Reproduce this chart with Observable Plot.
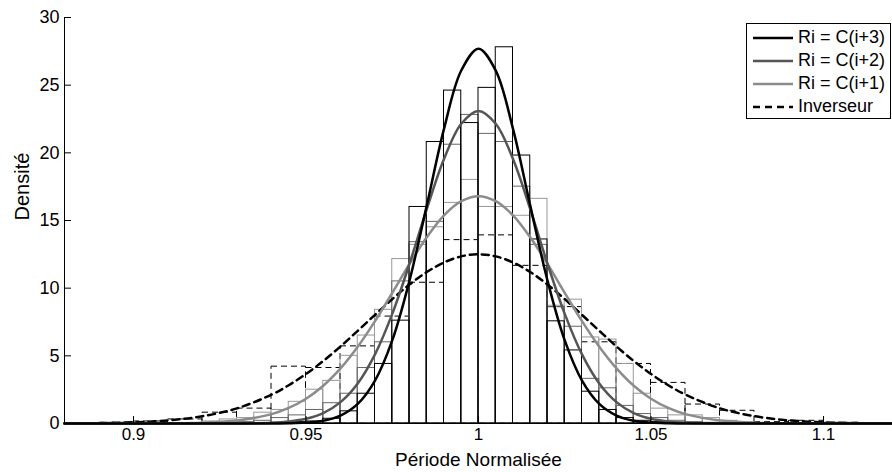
<!DOCTYPE html>
<html><head><meta charset="utf-8">
<script src="https://cdn.jsdelivr.net/npm/d3@7"></script>
<script src="https://cdn.jsdelivr.net/npm/@observablehq/plot@0.6"></script>
<style>
body{margin:0;background:#fff;font-family:"Liberation Sans",Arial,Helvetica,sans-serif;}
#wrap{position:relative;width:892px;height:472px;}
#legend{position:absolute;left:746px;top:23px;width:145px;height:96px;border:1px solid #000;background:#fff;box-sizing:border-box;padding-top:2px;}
.row{display:flex;align-items:center;height:23px;font-size:18px;line-height:23px;}
.row svg{margin-left:6px;margin-right:5px;}
</style></head><body><div id="wrap"></div>
<script>
// Series names and colours
const seriesNames = ["Ri = C(i+3)", "Ri = C(i+2)", "Ri = C(i+1)", "Inverseur"];
const seriesColors = ["#000000", "#555555", "#8c8c8c", "#000000"];

// Histogram bins for Ri series (left edges, width 0.005)
const riBinLeft = [0.920,0.925,0.930,0.935,0.940,0.945,0.950,0.955,0.960,0.965,0.970,0.975,0.980,0.985,0.990,0.995,1.000,1.005,1.010,1.015,1.020,1.025,1.030,1.035,1.040,1.045,1.050,1.055,1.060,1.065,1.070,1.075];
const riBinWidth = 0.005;
const histC3 = [0,0,0,0,0.05,0.1,0.15,0.35,0.9,2.2,4.4,7.6,16.0,20.8,24.6,22.2,24.8,27.8,19.8,13.6,7.55,5.4,2.35,1.0,0.4,0.2,0.1,0.05,0,0,0,0];
const histC2 = [0,0.05,0.1,0.2,0.4,0.6,1.0,1.5,2.2,4.1,6.0,10.5,13.4,14.9,20.6,22.8,21.4,20.8,17.5,13.2,8.6,7.15,3.3,2.6,1.3,0.7,0.4,0.2,0.1,0.05,0,0];
const histC1 = [0.15,0.3,0.4,0.8,1.0,1.6,2.5,3.15,5.0,6.5,8.4,12.15,13.2,14.5,16.3,18.0,16.0,16.0,15.35,16.6,8.7,9.15,6.36,6.2,4.4,2.2,1.1,0.6,0.6,0.4,0.2,0.1];

// Histogram bins for Inverseur (left edges, width 0.01)
const invBinLeft = [0.88,0.89,0.90,0.91,0.92,0.93,0.94,0.95,0.96,0.97,0.98,0.99,1.00,1.01,1.02,1.03,1.04,1.05,1.06,1.07,1.08,1.09,1.10,1.11];
const invBinWidth = 0.01;
const histInv = [0.02,0.05,0.15,0.3,0.8,1.1,4.2,4.1,5.7,7.9,10.4,13.55,13.9,11.65,8.6,6.0,4.4,3.0,1.4,0.94,0.1,0.2,0.05,0.02];

// Fitted density curves
const curveX = [0.88,0.89,0.90,0.91,0.92,0.93,0.94,0.945,0.95,0.955,0.96,0.965,0.97,0.975,0.98,0.985,0.99,0.995,1.0,1.005,1.01,1.015,1.02,1.025,1.03,1.035,1.04,1.045,1.05,1.055,1.06,1.07,1.08,1.09,1.10,1.11,1.12];
const curveC3 = [0,0,0,0,0,0,0.005,0.02,0.07,0.21,0.59,1.45,3.17,6.14,10.56,16.1,21.77,26.08,27.7,26.08,21.77,16.1,10.56,6.14,3.17,1.45,0.59,0.21,0.07,0.02,0.005,0,0,0,0,0,0];
const curveC2 = [0,0,0,0,0,0.006,0.055,0.15,0.35,0.77,1.58,2.96,5.11,8.10,11.81,15.84,19.54,22.15,23.1,22.15,19.54,15.84,11.81,8.10,5.11,2.96,1.58,0.77,0.35,0.15,0.055,0.006,0,0,0,0,0];
const curveC1 = [0,0,0.002,0.013,0.058,0.22,0.69,1.15,1.83,2.79,4.07,5.67,7.56,9.65,11.79,13.76,15.38,16.43,16.8,16.43,15.38,13.76,11.79,9.65,7.56,5.67,4.07,2.79,1.83,1.15,0.69,0.22,0.058,0.013,0.002,0,0];
const curveInv = [0.01,0.03,0.09,0.23,0.54,1.12,2.13,2.83,3.66,4.62,5.69,6.85,8.03,9.19,10.27,11.19,11.9,12.35,12.5,12.35,11.9,11.19,10.27,9.19,8.03,6.85,5.69,4.62,3.66,2.83,2.13,1.12,0.54,0.23,0.09,0.03,0.01];

// Axis ticks
const xTicks = [0.9, 0.95, 1.0, 1.05, 1.1];
const xTickLabels = ["0.9", "0.95", "1", "1.05", "1.1"];
const yTicks = [0, 5, 10, 15, 20, 25, 30];

const bars = (lefts, w, vals) => lefts.map((l, i) => ({x1: l, x2: l + w, y: vals[i]}));
const pts = (ys) => curveX.map((x, i) => ({x, y: ys[i]}));

const font = '"Liberation Sans", Arial, Helvetica, sans-serif';

const chart = Plot.plot({
  width: 892, height: 472,
  marginLeft: 64, marginRight: 0, marginTop: 17, marginBottom: 49,
  x: {domain: [0.88, 1.12]},
  y: {domain: [0, 30]},
  style: {fontFamily: font, fontSize: "18px", background: "white", color: "black"},
  marks: [
    Plot.rect(bars(invBinLeft, invBinWidth, histInv), {x1: "x1", x2: "x2", y1: 0, y2: "y", fill: "none", stroke: seriesColors[3], strokeWidth: 1, strokeDasharray: "6,4"}),
    Plot.rect(bars(riBinLeft, riBinWidth, histC1), {x1: "x1", x2: "x2", y1: 0, y2: "y", fill: "none", stroke: "#999999", strokeWidth: 1}),
    Plot.rect(bars(riBinLeft, riBinWidth, histC2), {x1: "x1", x2: "x2", y1: 0, y2: "y", fill: "none", stroke: "#666666", strokeWidth: 1}),
    Plot.rect(bars(riBinLeft, riBinWidth, histC3), {x1: "x1", x2: "x2", y1: 0, y2: "y", fill: "none", stroke: "#000000", strokeWidth: 1}),
    Plot.line(pts(curveInv), {x: "x", y: "y", stroke: seriesColors[3], strokeWidth: 2.5, strokeDasharray: "7,5", curve: "catmull-rom"}),
    Plot.line(pts(curveC1), {x: "x", y: "y", stroke: seriesColors[2], strokeWidth: 2.5, curve: "catmull-rom"}),
    Plot.line(pts(curveC2), {x: "x", y: "y", stroke: seriesColors[1], strokeWidth: 2.5, curve: "catmull-rom"}),
    Plot.line(pts(curveC3), {x: "x", y: "y", stroke: seriesColors[0], strokeWidth: 2.5, curve: "catmull-rom"}),
    Plot.ruleX([0.88], {stroke: "black"}),
    Plot.ruleY([0], {stroke: "black"}),
    Plot.axisY({ticks: yTicks, tickSize: 7, dx: 7, tickFormat: () => "", label: null}),
    Plot.axisY({ticks: yTicks, tickSize: 0, tickPadding: 5, label: null}),
    Plot.axisX({ticks: xTicks, tickSize: 7, dy: -7, tickFormat: () => "", label: null}),
    Plot.axisX({ticks: xTicks, tickSize: 0, tickPadding: 4, fontSize: 17, tickFormat: (d) => xTickLabels[xTicks.indexOf(d)], label: null}),
    Plot.text(["Densité"], {frameAnchor: "left", rotate: -90, dx: -42, fontSize: 20}),
    Plot.text(["Période Normalisée"], {frameAnchor: "bottom", lineAnchor: "middle", dy: 36, fontSize: 19})
  ]
});

const wrap = document.getElementById("wrap");
wrap.appendChild(chart);

// Legend
const legend = document.createElement("div");
legend.id = "legend";
seriesNames.forEach((name, i) => {
  const row = document.createElement("div");
  row.className = "row";
  const dash = i === 3 ? 'stroke-dasharray="7,5"' : "";
  row.innerHTML = `<svg width="40" height="6"><line x1="0" y1="3" x2="40" y2="3" stroke="${seriesColors[i]}" stroke-width="2.5" ${dash}/></svg><span>${name}</span>`;
  legend.appendChild(row);
});
wrap.appendChild(legend);
</script></body></html>
